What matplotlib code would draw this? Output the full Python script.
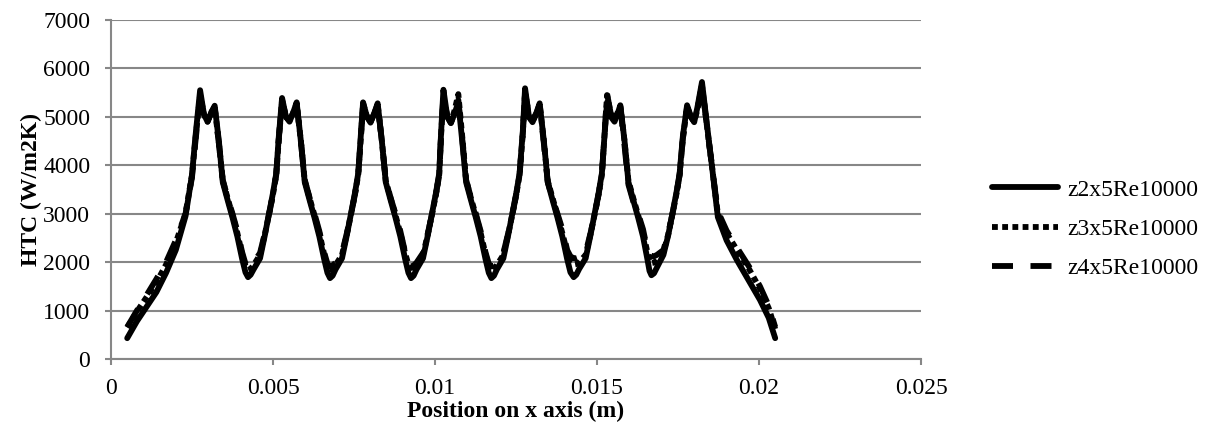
import matplotlib
matplotlib.use("Agg")
import matplotlib.pyplot as plt

plt.rcParams['font.family'] = ['Liberation Serif', 'DejaVu Serif']

# Position along the x axis (m)
position = [
    0.0005, 0.0008, 0.0011, 0.0014, 0.0017, 0.0020, 0.0023, 0.0025, 0.0026, 0.00275,
    0.00287, 0.00298, 0.0031, 0.0032, 0.00333, 0.00345, 0.0036, 0.00375, 0.0039, 0.00405,
    0.00415, 0.00423, 0.00431, 0.0044, 0.0046, 0.00475, 0.0049, 0.005, 0.0051, 0.00518, 0.00528,
    0.0054, 0.00551, 0.00563, 0.00573, 0.00586, 0.00598, 0.00613, 0.00628, 0.00643, 0.00658,
    0.00668, 0.00676, 0.00684, 0.00693, 0.00713, 0.00728, 0.00743, 0.00753, 0.00763, 0.00771, 0.00778,
    0.0079, 0.00801, 0.00813, 0.00823, 0.00836, 0.00848, 0.00863, 0.00878, 0.00893, 0.00908,
    0.00918, 0.00926, 0.00934, 0.00943, 0.00963, 0.00978, 0.00993, 0.01003, 0.01013, 0.01019, 0.01026,
    0.01038, 0.01049, 0.01061, 0.01072, 0.01084, 0.01096, 0.01111, 0.01126, 0.01141, 0.01156,
    0.01166, 0.01174, 0.01182, 0.01191, 0.01211, 0.01226, 0.01241, 0.01251, 0.01261, 0.01271, 0.01278,
    0.0129, 0.01301, 0.01313, 0.01323, 0.01336, 0.01348, 0.01363, 0.01378, 0.01393, 0.01408,
    0.01418, 0.01428, 0.01436, 0.01445, 0.01465, 0.0148, 0.01495, 0.01505, 0.01515, 0.01523, 0.01531,
    0.01543, 0.01554, 0.01563, 0.01572, 0.01585, 0.01597, 0.01612, 0.01627, 0.01642, 0.01655,
    0.01662, 0.01668, 0.01676, 0.01685, 0.01705, 0.0172, 0.01735, 0.01745, 0.01755, 0.01765, 0.01778,
    0.0179, 0.018, 0.0181, 0.01824, 0.01835, 0.01845, 0.01855, 0.01865, 0.01873, 0.019,
    0.01932, 0.0197, 0.02003, 0.0203, 0.0205,
]

# Heat transfer coefficient (W/m2K)
htc_z2 = [
    430, 780, 1080, 1380, 1780, 2250, 2950, 3800, 4550, 5550,
    5050, 4900, 5100, 5230, 4500, 3650, 3280, 2920, 2530, 2060,
    1790, 1690, 1740, 1850, 2080, 2560, 3080, 3430, 3830, 4600, 5390,
    5000, 4900, 5100, 5300, 4500, 3650, 3280, 2920, 2530, 2060,
    1780, 1670, 1720, 1850, 2080, 2560, 3080, 3430, 3830, 4600, 5300,
    5000, 4880, 5080, 5280, 4500, 3650, 3280, 2920, 2530, 2060,
    1780, 1670, 1720, 1850, 2080, 2560, 3080, 3430, 3830, 4700, 5560,
    5000, 4870, 5080, 5300, 4500, 3650, 3280, 2920, 2530, 2060,
    1780, 1670, 1720, 1850, 2080, 2560, 3080, 3430, 3830, 4700, 5590,
    5000, 4890, 5080, 5280, 4500, 3650, 3280, 2920, 2530, 2060,
    1790, 1690, 1740, 1860, 2080, 2560, 3080, 3430, 3830, 4600, 5300,
    5000, 4900, 5050, 5240, 4500, 3650, 3280, 2920, 2530, 2080,
    1820, 1730, 1770, 1890, 2150, 2560, 3080, 3430, 3830, 4600, 5240,
    5000, 4890, 5200, 5720, 5090, 4520, 3970, 3390, 2930, 2450,
    2040, 1600, 1220, 850, 430,
]

htc_z3 = [
    650, 980, 1280, 1580, 1950, 2400, 3000, 3800, 4500, 5450,
    5050, 4900, 5100, 5200, 4450, 3680, 3320, 2970, 2600, 2160,
    1920, 1840, 1860, 1940, 2150, 2580, 3060, 3400, 3800, 4550, 5350,
    5000, 4920, 5100, 5280, 4500, 3680, 3320, 2970, 2600, 2160,
    1920, 1840, 1860, 1940, 2150, 2580, 3060, 3400, 3800, 4550, 5280,
    5000, 4900, 5080, 5260, 4500, 3680, 3320, 2970, 2600, 2180,
    1950, 1880, 1890, 1960, 2150, 2580, 3060, 3400, 3800, 4650, 5400,
    5000, 4880, 5150, 5470, 4600, 3700, 3320, 2970, 2600, 2160,
    1920, 1840, 1860, 1940, 2150, 2580, 3060, 3400, 3800, 4650, 5500,
    5000, 4900, 5080, 5260, 4500, 3680, 3320, 2970, 2600, 2200,
    2000, 1950, 1960, 2000, 2150, 2580, 3060, 3400, 3800, 4600, 5450,
    5050, 4950, 5080, 5220, 4500, 3680, 3320, 2970, 2620, 2220,
    2030, 1980, 1990, 2040, 2200, 2580, 3060, 3400, 3800, 4550, 5200,
    5000, 4900, 5150, 5650, 5050, 4500, 3980, 3420, 3000, 2600,
    2250, 1850, 1450, 1050, 620,
]

htc_z4 = [
    660, 1000, 1320, 1650, 2000, 2450, 3000, 3750, 4450, 5400,
    5050, 4920, 5080, 5180, 4450, 3700, 3330, 3000, 2640, 2200,
    1970, 1900, 1920, 1990, 2190, 2600, 3060, 3400, 3800, 4550, 5300,
    5000, 4920, 5100, 5250, 4500, 3700, 3330, 3000, 2640, 2200,
    1970, 1910, 1930, 1990, 2190, 2600, 3060, 3400, 3800, 4550, 5250,
    5000, 4900, 5080, 5250, 4500, 3700, 3330, 3000, 2640, 2200,
    1970, 1910, 1930, 1990, 2190, 2600, 3060, 3400, 3800, 4650, 5450,
    5000, 4880, 5100, 5350, 4550, 3700, 3330, 3000, 2640, 2200,
    1970, 1910, 1930, 1990, 2190, 2600, 3060, 3400, 3800, 4650, 5500,
    5050, 4920, 5080, 5220, 4450, 3650, 3300, 3000, 2680, 2250,
    2120, 2080, 2080, 2100, 2200, 2600, 3060, 3400, 3800, 4600, 5480,
    5050, 4950, 5080, 5200, 4400, 3600, 3250, 3000, 2680, 2260,
    2160, 2120, 2120, 2150, 2250, 2600, 3060, 3400, 3800, 4550, 5200,
    5000, 4900, 5150, 5650, 5050, 4500, 3990, 3450, 3050, 2650,
    2300, 1900, 1500, 1100, 660,
]

series_labels = ['z2x5Re10000', 'z3x5Re10000', 'z4x5Re10000']

x_ticks = [0, 0.005, 0.01, 0.015, 0.02, 0.025]
x_tick_labels = ['0', '0.005', '0.01', '0.015', '0.02', '0.025']
y_ticks = [0, 1000, 2000, 3000, 4000, 5000, 6000, 7000]

grid_grey = '#878787'
fs = 17

fig = plt.figure(figsize=(12.08, 4.37), dpi=100)
ax = fig.add_axes([111 / 1208, 78 / 437, 810 / 1208, 339 / 437])

lw = 4.2
ax.plot(position, htc_z2, color='black', lw=lw, solid_joinstyle='round',
        solid_capstyle='round', label=series_labels[0], zorder=3)
ax.plot(position, htc_z3, color='black', lw=lw, linestyle=(0, (1.0, 0.75)),
        label=series_labels[1], zorder=4)
ax.plot(position, htc_z4, color='black', lw=lw, linestyle=(0, (3.6, 3.0)),
        label=series_labels[2], zorder=5)

ax.set_xlim(0, 0.025)
ax.set_ylim(0, 7000)
ax.set_xticks(x_ticks)
ax.set_xticklabels(x_tick_labels)
ax.set_yticks(y_ticks)

ax.yaxis.grid(True, color=grid_grey, linewidth=1.5)
ax.set_axisbelow(True)
for side in ('top', 'right'):
    ax.spines[side].set_visible(False)
for side in ('left', 'bottom'):
    ax.spines[side].set_color(grid_grey)
    ax.spines[side].set_linewidth(1.5)

ax.tick_params(axis='y', length=4, width=1.5, color=grid_grey, pad=11, labelsize=fs)
ax.tick_params(axis='x', length=4, width=1.5, color=grid_grey, pad=10, labelsize=fs)

ax.set_xlabel('Position on x axis (m)', fontsize=fs, fontweight='bold', labelpad=1)
ax.set_ylabel('HTC (W/m2K)', fontsize=fs, fontweight='bold', labelpad=1)

fig.legend(loc='center left', bbox_to_anchor=(992 / 1208, 1 - 229 / 437),
           frameon=False, fontsize=fs, handlelength=2.8, handletextpad=0.4,
           labelspacing=0.75, borderpad=0, borderaxespad=0)

fig.savefig('out.png', dpi=100)
